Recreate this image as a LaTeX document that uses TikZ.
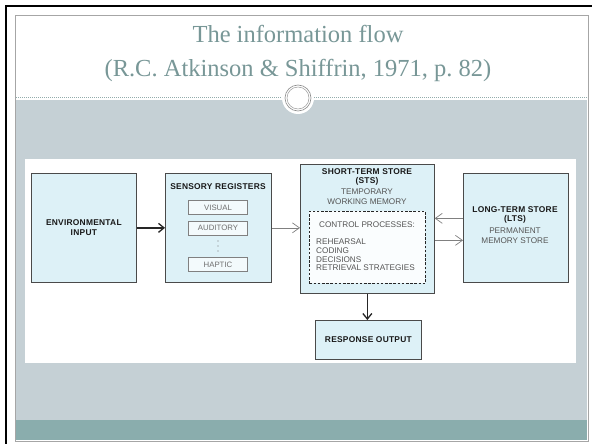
\documentclass[tikz,border=0pt]{standalone}
\usepackage{fontspec}
\setmainfont{Liberation Serif}
\setsansfont{Liberation Sans}
\newfontfamily\hdfont{Liberation Sans}[LetterSpace=3]
\usetikzlibrary{arrows.meta}

\definecolor{slidegray}{HTML}{C5D0D5}
\definecolor{slideteal}{HTML}{8AADAD}
\definecolor{titleteal}{HTML}{789797}
\definecolor{boxfill}{HTML}{DDF1F7}
\definecolor{boxline}{HTML}{4A4A4A}
\definecolor{textgray}{HTML}{555555}
\definecolor{subline}{HTML}{808080}

\tikzset{
  storebox/.style={draw=boxline, fill=boxfill, line width=0.7pt, inner sep=0pt, anchor=north west},
  subbox/.style={draw=subline, fill=boxfill!35, line width=0.6pt, inner sep=0pt,
    minimum width=59pt, minimum height=14pt, font=\sffamily\fontsize{7.8}{8}\selectfont, text=textgray!85},
  ctrlbox/.style={draw=black!85, dash pattern=on 2.6pt off 1.6pt, line width=0.9pt, fill=boxfill!15,
    inner sep=0pt, anchor=north west},
  headtext/.style={font=\hdfont\bfseries\fontsize{8.4}{9}\selectfont, text=black!90, align=center, inner sep=0pt},
  plaintext/.style={font=\sffamily\fontsize{8.2}{8.7}\selectfont, text=textgray, align=center, inner sep=0pt},
  bigarrow/.style={-{Straight Barb[length=5.5pt,width=9pt]}, line width=1.3pt, black!85},
  thinarrow/.style={-{Straight Barb[length=7pt,width=10pt]}, line width=0.7pt, black!50},
}

\begin{document}
\begin{tikzpicture}[x=1pt, y=-1pt]
\useasboundingbox (0,0) rectangle (592,444);
\fill[white] (0,0) rectangle (592,444);

% slide frame and bands
\draw[black, line width=2pt] (6,444) -- (6,6) -- (592,6);
\draw[black!35, line width=0.6pt, fill=white] (15,15) rectangle (588,441);
\fill[slidegray] (16,100) rectangle (587,420);
\fill[slideteal] (16,420) rectangle (587,440);
\draw[titleteal!80, dash pattern=on 1pt off 1pt, line width=0.5pt] (16,97) -- (587,97);

% ornament on the title rule
\fill[white] (298,98) circle (16);
\draw[black!45, line width=0.6pt] (298,98) circle (13);
\draw[black!40, line width=0.5pt] (298,98) circle (11);

% title
\node[font=\fontsize{24.5}{34}\selectfont, text=titleteal, align=center] (title) at (298,53)
  {The information flow\\(R.C. Atkinson \& Shiffrin, 1971, p.~82)};

% white panel holding the flow chart
\fill[white] (25,159) rectangle (576,363);

% stores
\node[storebox, minimum width=105pt, minimum height=109pt] (env) at (31,173) {};
\node[storebox, minimum width=106pt, minimum height=109pt] (sens) at (165,173) {};
\node[storebox, minimum width=134pt, minimum height=129pt] (sts) at (300,164) {};
\node[storebox, minimum width=105pt, minimum height=109pt] (lts) at (463,173) {};
\node[storebox, minimum width=106pt, minimum height=39pt] (resp) at (315,320) {};
\node[ctrlbox, minimum width=116pt, minimum height=72pt] (ctrl) at (309,211) {};

% environmental input
\node[headtext, font=\hdfont\bfseries\fontsize{8.4}{10.5}\selectfont] (envtxt) at (env.center) {ENVIRONMENTAL\\INPUT};

% sensory registers
\node[headtext] (senstxt) at (218,187) {SENSORY REGISTERS};
\node[subbox] (visual) at (218,207.5) {VISUAL};
\node[subbox] (auditory) at (218,228) {AUDITORY};
\node[subbox] (haptic) at (218,264.5) {HAPTIC};
\foreach \yy in {241,246,251} \fill[textgray!80] (218,\yy) circle (0.6);

% short-term store
\node[headtext, font=\hdfont\bfseries\fontsize{8.4}{8.4}\selectfont] (ststxt) at (367,177) {SHORT-TERM STORE\\(STS)};
\node[plaintext, font=\sffamily\fontsize{8.2}{10}\selectfont] (stssub) at (367,197) {TEMPORARY\\WORKING MEMORY};
\node[plaintext] (ctrltxt) at (367,225) {CONTROL PROCESSES:};
\node[plaintext, align=left, anchor=west] (ctrllist) at (316,255)
  {REHEARSAL\\CODING\\DECISIONS\\RETRIEVAL STRATEGIES};

% long-term store
\node[headtext, font=\hdfont\bfseries\fontsize{8.4}{8.4}\selectfont] (ltstxt) at (515,215) {LONG-TERM STORE\\(LTS)};
\node[plaintext, font=\sffamily\fontsize{8.2}{10}\selectfont] (ltssub) at (515,236) {PERMANENT\\MEMORY STORE};

% response output
\node[headtext] (resptxt) at (resp.center) {RESPONSE OUTPUT};

% connectors
\draw[bigarrow] (env.east) -- (sens.west);
\draw[thinarrow] (sens.east) -- (sens.east -| sts.west);
\draw[thinarrow] ([yshift=9.5pt]lts.west) -- ([yshift=9.5pt]lts.west -| sts.east);
\draw[thinarrow] ([yshift=-12.5pt]lts.west -| sts.east) -- ([yshift=-12.5pt]lts.west);
\draw[bigarrow] (sts.south) -- (sts.south |- resp.north);
\end{tikzpicture}
\end{document}
